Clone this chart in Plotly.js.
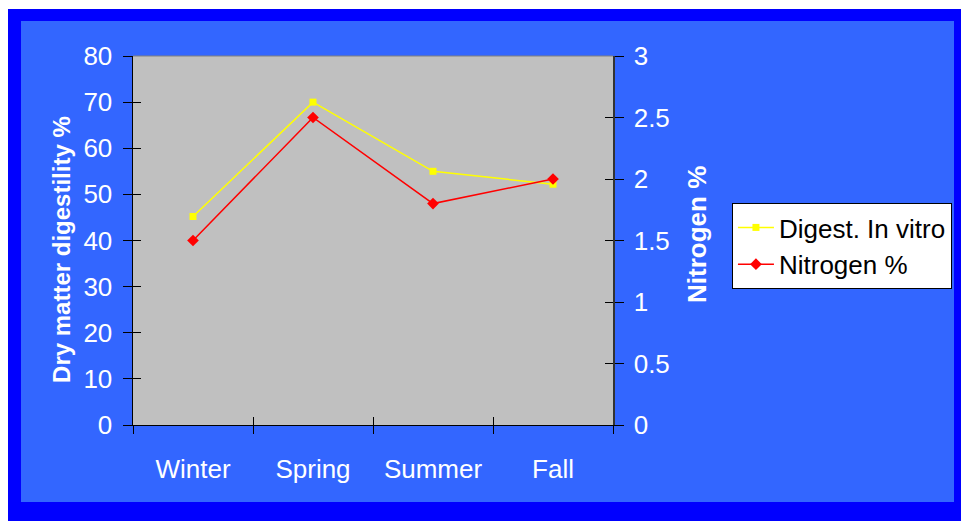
<!DOCTYPE html>
<html>
<head>
<meta charset="utf-8">
<script src="https://cdn.plot.ly/plotly-3.0.1.min.js"></script>
<style>
  html, body { margin: 0; padding: 0; background: #ffffff; width: 961px; height: 521px; overflow: hidden; }
  #frame { position: absolute; left: 8px; top: 9px; width: 953px; height: 512px; background: #0000FF; }
  #chart { position: absolute; left: 21px; top: 21px; width: 933px; height: 481px; }
</style>
</head>
<body>
<div id="frame"></div>
<div id="chart"></div>
<script>
const seasons = ['Winter', 'Spring', 'Summer', 'Fall'];
const digestInVitro = [45.2, 70, 55, 52.2];
const nitrogenPct = [1.5, 2.5, 1.8, 2.0];
const leftTicks = [0, 10, 20, 30, 40, 50, 60, 70, 80];
const rightTicks = [0, 0.5, 1, 1.5, 2, 2.5, 3];
const rightTickText = ['0', '0.5', '1', '1.5', '2', '2.5', '3'];
const leftTitle = 'Dry matter digestility %';
const rightTitle = 'Nitrogen %';

const FONT = 'Liberation Sans, Arial, sans-serif';
const TICKSIZE = 26;

const traces = [
  {
    x: seasons, y: digestInVitro, name: 'Digest. In vitro',
    type: 'scatter', mode: 'lines+markers',
    line: { color: '#FFFF00', width: 1.5 },
    marker: { symbol: 'square', size: 7, color: '#FFFF00' },
    xaxis: 'x', yaxis: 'y'
  },
  {
    x: seasons, y: nitrogenPct, name: 'Nitrogen %',
    type: 'scatter', mode: 'lines+markers',
    line: { color: '#FF0000', width: 1.5 },
    marker: { symbol: 'diamond', size: 9, color: '#FF0000' },
    xaxis: 'x', yaxis: 'y2'
  }
];

const layout = {
  width: 933, height: 481,
  margin: { l: 112, r: 341, t: 35, b: 77, autoexpand: false },
  paper_bgcolor: '#3366FF',
  plot_bgcolor: '#C0C0C0',
  font: { family: FONT, size: TICKSIZE, color: '#FFFFFF' },
  showlegend: true,
  legend: {
    xref: 'container', yref: 'container',
    x: 0.762, y: 0.6216, xanchor: 'left', yanchor: 'top',
    bgcolor: '#FFFFFF', bordercolor: '#000000', borderwidth: 1,
    font: { family: FONT, size: 26, color: '#000000' },
    tracegroupgap: 0, itemwidth: 36
  },
  xaxis: {
    type: 'category', categoryorder: 'array', categoryarray: seasons,
    range: [-0.5, 3.5], tickson: 'boundaries',
    ticks: 'outside', ticklen: 8, tickcolor: '#000000', tickwidth: 1,
    showline: true, linecolor: '#000000', linewidth: 1,
    showgrid: false, zeroline: false, automargin: false,
    ticklabelstandoff: 21,
    tickfont: { family: FONT, size: TICKSIZE, color: '#FFFFFF' }
  },
  yaxis: {
    range: [0, 80], tickvals: leftTicks,
    ticks: 'outside', ticklen: 9, tickcolor: '#000000',
    showline: true, linecolor: '#000000', linewidth: 1.5,
    showgrid: false, zeroline: false, automargin: false,
    ticklabelstandoff: 5,
    tickfont: { family: FONT, size: TICKSIZE, color: '#FFFFFF' }
  },
  yaxis2: {
    range: [0, 3], tickvals: rightTicks, ticktext: rightTickText,
    overlaying: 'y', side: 'right',
    ticks: 'outside', ticklen: 9, tickcolor: '#000000',
    showline: true, linecolor: '#333333', linewidth: 1.5,
    showgrid: false, zeroline: false, automargin: false,
    ticklabelstandoff: 5,
    tickfont: { family: FONT, size: TICKSIZE, color: '#FFFFFF' }
  },
  yaxis3: {
    range: [0, 80], tickvals: leftTicks, overlaying: 'y', side: 'left',
    ticks: 'inside', ticklen: 8, tickcolor: '#000000',
    showticklabels: false, showgrid: false, zeroline: false, showline: false
  },
  yaxis4: {
    range: [0, 3], tickvals: rightTicks, overlaying: 'y', side: 'right',
    ticks: 'inside', ticklen: 8, tickcolor: '#000000',
    showticklabels: false, showgrid: false, zeroline: false, showline: false
  },
  xaxis2: {
    range: [-0.5, 3.5], tickvals: [-0.5, 0.5, 1.5, 2.5, 3.5], overlaying: 'x', side: 'bottom',
    ticks: 'inside', ticklen: 8, tickcolor: '#000000',
    showticklabels: false, showgrid: false, zeroline: false, showline: false
  },
  annotations: [
    { text: leftTitle, xref: 'paper', yref: 'paper', x: -0.148, y: 0.477,
      xanchor: 'center', yanchor: 'middle', textangle: -90, showarrow: false,
      font: { family: FONT, size: 24, color: '#FFFFFF', weight: 'bold' } },
    { text: rightTitle, xref: 'paper', yref: 'paper', x: 1.175, y: 0.515,
      xanchor: 'center', yanchor: 'middle', textangle: -90, showarrow: false,
      font: { family: FONT, size: 26, color: '#FFFFFF', weight: 'bold' } }
  ],
  shapes: [
    { type: 'line', xref: 'paper', yref: 'paper', x0: 0, x1: 1, y0: 1, y1: 1,
      line: { color: '#808080', width: 1 } }
  ]
};

// invisible helper traces so the overlay tick axes are drawn
traces.push({ x: [null], y: [null], xaxis: 'x2', yaxis: 'y3', showlegend: false, hoverinfo: 'skip', type: 'scatter', mode: 'markers' });
traces.push({ x: [null], y: [null], xaxis: 'x2', yaxis: 'y4', showlegend: false, hoverinfo: 'skip', type: 'scatter', mode: 'markers' });

Plotly.newPlot('chart', traces, layout, { staticPlot: true, displayModeBar: false });
</script>
</body>
</html>
